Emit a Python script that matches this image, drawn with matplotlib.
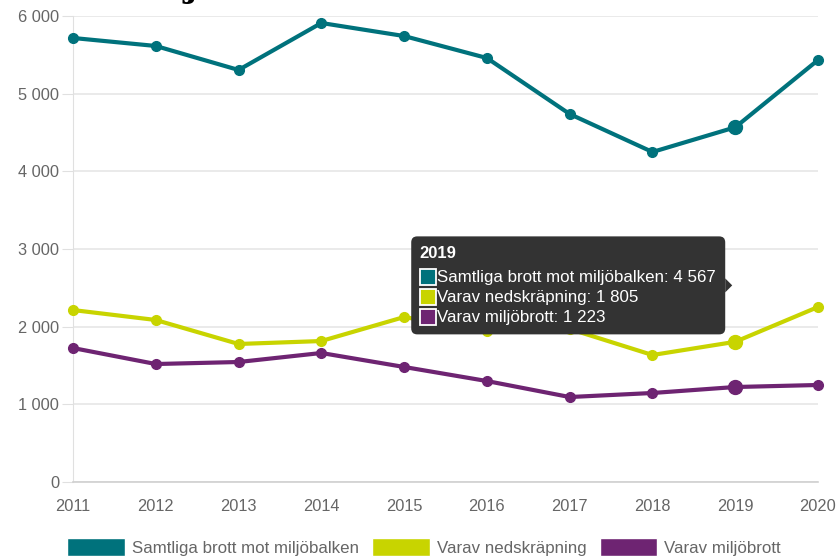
import matplotlib
matplotlib.use("Agg")
import matplotlib.pyplot as plt
from matplotlib.patches import Patch, FancyBboxPatch, Rectangle, Polygon

plt.rcParams['font.family'] = ['Liberation Sans', 'DejaVu Sans']

years = [2011, 2012, 2013, 2014, 2015, 2016, 2017, 2018, 2019, 2020]
samtliga = [5717, 5614, 5305, 5910, 5742, 5459, 4738, 4249, 4567, 5433]
nedskrapning = [2214, 2086, 1777, 1815, 2124, 1944, 1970, 1635, 1805, 2253]
miljobrott = [1725, 1519, 1545, 1661, 1481, 1300, 1094, 1146, 1223, 1249]
series_names = ["Samtliga brott mot miljöbalken", "Varav nedskräpning", "Varav miljöbrott"]
colors = ["#00727c", "#c8d400", "#6e2472"]
yticks = [0, 1000, 2000, 3000, 4000, 5000, 6000]
hover_year = 2019

def fmt(v):
    return f"{v:,}".replace(",", " ")

W, H = 840, 560
fig = plt.figure(figsize=(W / 100, H / 100), dpi=100)
ax = fig.add_axes([73 / W, 1 - 482 / H, (818 - 73) / W, (482 - 16) / H])

series = [samtliga, nedskrapning, miljobrott]
hi = years.index(hover_year)
for vals, c in zip(series, colors):
    ax.plot(years, vals, color=c, lw=3.0, marker='o', ms=7, zorder=3,
            solid_joinstyle='round', clip_on=False)
    ax.plot([years[hi]], [vals[hi]], 'o', color=c, ms=10, zorder=4, clip_on=False)

ax.set_xlim(years[0], years[-1])
ax.set_ylim(0, 6000)
ax.set_yticks(yticks)
ax.set_yticklabels([fmt(v) for v in yticks])
ax.set_xticks(years)
ax.set_xticklabels([str(y) for y in years])
ax.grid(axis='y', color='#e6e6e6', lw=1.2)
ax.set_axisbelow(True)
for s in ['top', 'right']:
    ax.spines[s].set_visible(False)
ax.spines['left'].set_color('#e0e0e0')
ax.spines['bottom'].set_color('#d0d0d0')
ax.spines['bottom'].set_linewidth(1.2)
ax.tick_params(axis='y', colors='#e0e0e0', labelcolor='#666666', labelsize=11.8, length=8, pad=2)
ax.tick_params(axis='x', length=0, labelcolor='#666666', labelsize=11.8, pad=12)

# title, clipped at the top edge as in the reference (only a descender shows)
fig.text(190 / W, 1 + 3 / H, "j", fontsize=24, fontweight='bold', family='DejaVu Serif',
         color='black', ha='center', va='baseline')

# tooltip (anchored to hovered data points)
pts = [ax.transData.transform((hover_year, v[hi])) for v in series]
px = pts[0][0]
cy = sum(p[1] for p in pts) / 3
tw, th = 314, 98
right = px - 10
left = right - tw
bottom = cy - th / 2
fig.add_artist(FancyBboxPatch((left, bottom), tw, th,
               boxstyle="round,pad=0,rounding_size=6", transform=None,
               fc='#333333', ec='none', zorder=10))
fig.add_artist(Polygon([(right, cy + 7), (right + 7, cy), (right, cy - 7)], closed=True,
                       transform=None, fc='#333333', ec='none', zorder=10))
fig.text((left + 8) / W, (bottom + th - 17) / H, str(hover_year), color='white',
         fontsize=12, fontweight='bold', va='center', ha='left', zorder=11)
for i, (name, vals, c) in enumerate(zip(series_names, series, colors)):
    yy = bottom + th - 41 - i * 20
    fig.add_artist(Rectangle((left + 9, yy - 8), 16, 16, transform=None, fc=c,
                             ec='white', lw=1.3, zorder=11))
    fig.text((left + 26) / W, yy / H, f"{name}: {fmt(vals[hi])}", color='white',
             fontsize=12.2, va='center', ha='left', zorder=11)

handles = [Patch(facecolor=c, edgecolor='white', label=n) for n, c in zip(series_names, colors)]
fig.legend(handles=handles, loc='center', bbox_to_anchor=(424 / W, 1 - 547 / H), ncol=3,
           frameon=False, fontsize=12.2, handlelength=3.4, handleheight=1.3,
           handletextpad=0.4, columnspacing=0.8, labelcolor='#666666', borderaxespad=0)

fig.savefig("out.png", dpi=100)
